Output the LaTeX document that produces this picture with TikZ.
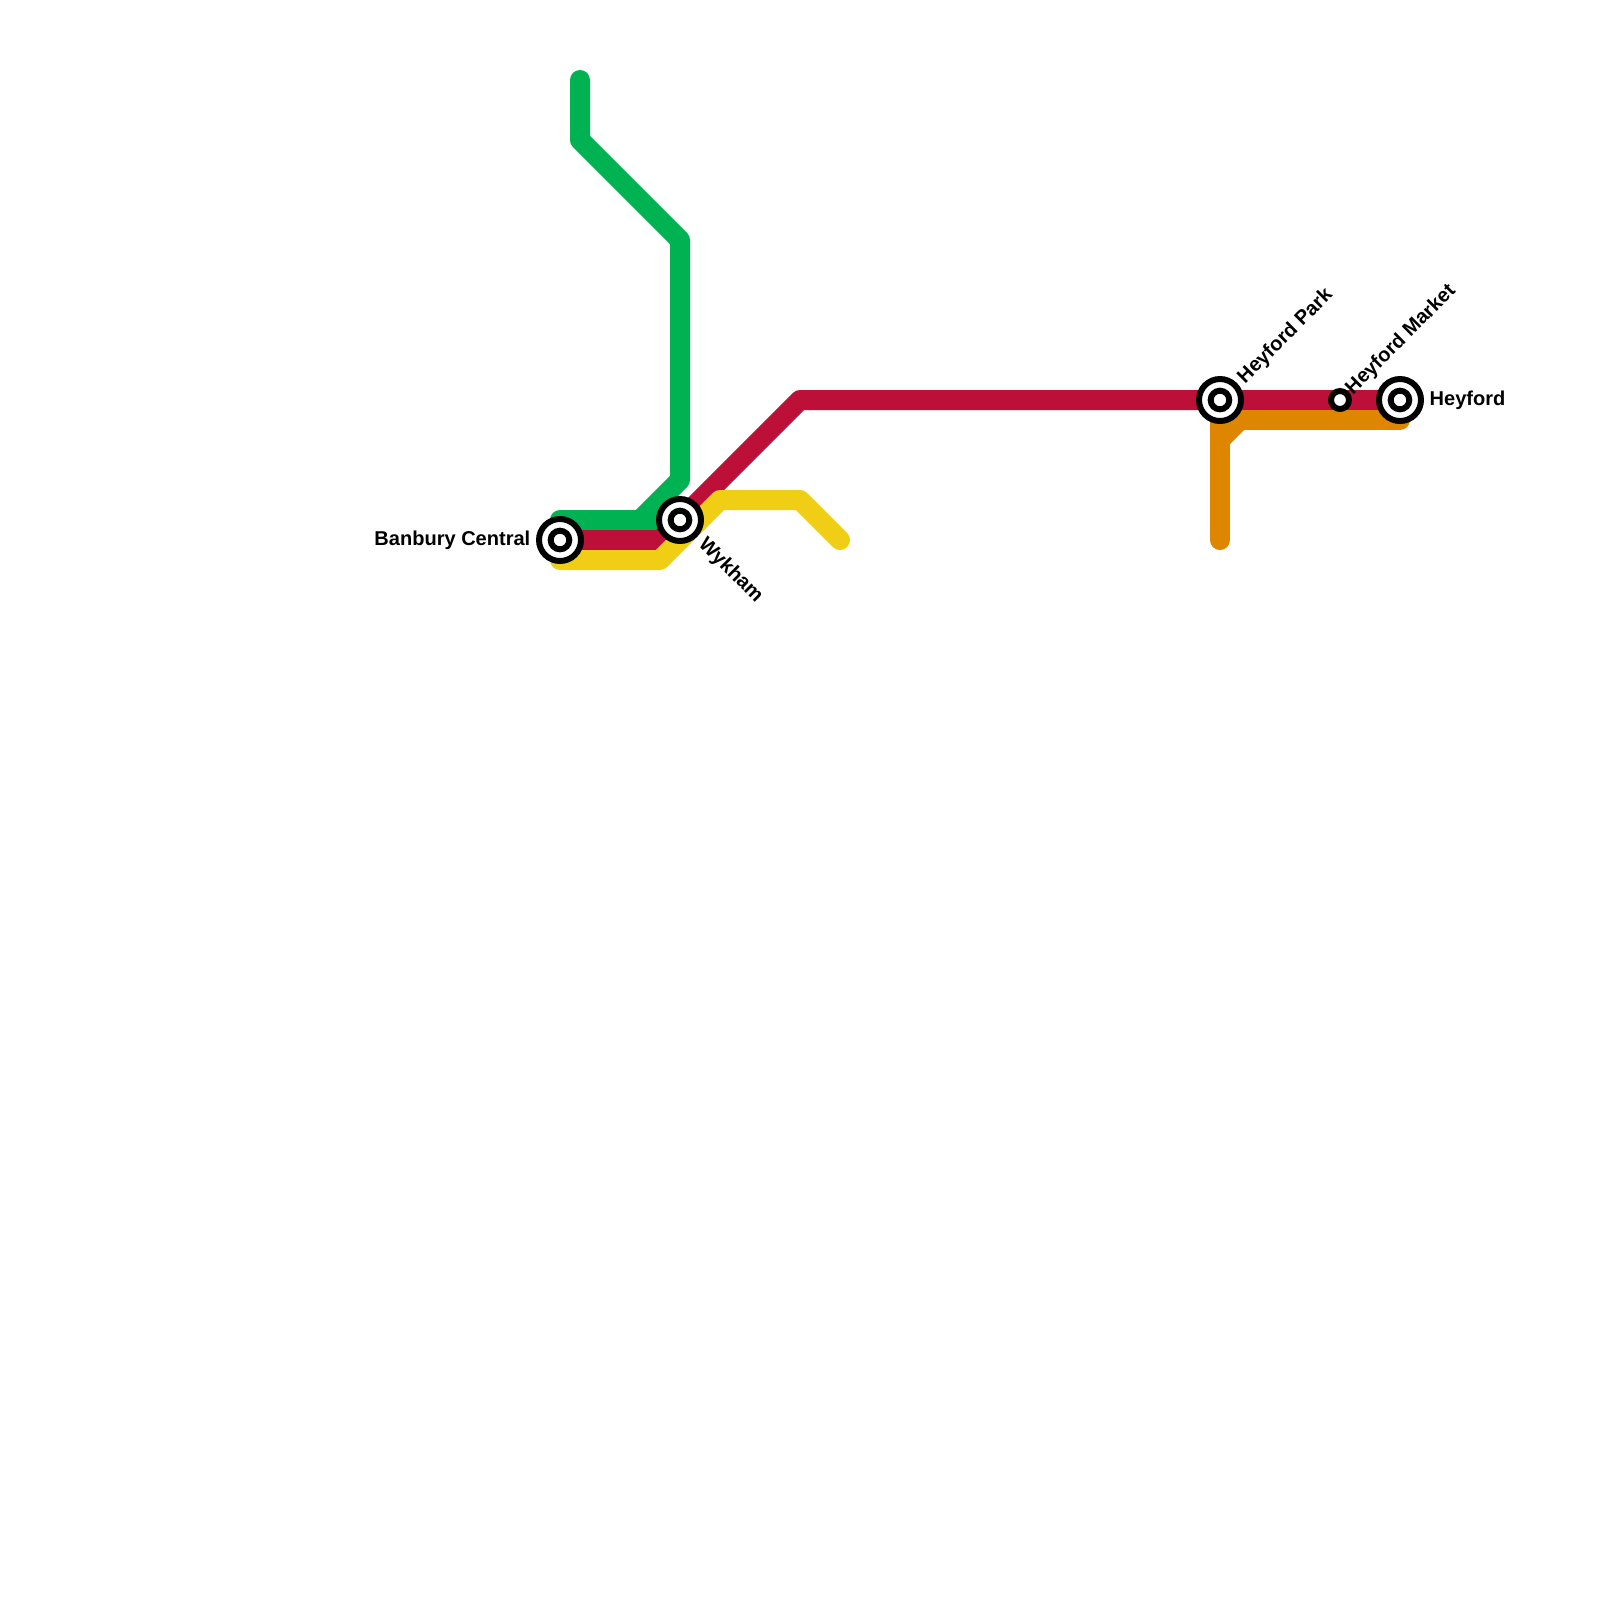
\documentclass[tikz,border=0pt]{standalone}
\usepackage{fontspec}
\setmainfont{Liberation Sans}
\usetikzlibrary{backgrounds}
\definecolor{linegreen}{HTML}{00B251}
\definecolor{linered}{HTML}{BD1038}
\definecolor{lineyellow}{HTML}{F0CE15}
\definecolor{lineorange}{HTML}{DF8600}
\tikzset{
  route/.style={line width=5.69pt,line cap=round,line join=round},
  interchange/.style={circle,draw=black,fill=white,line width=1.7pt,inner sep=0pt,outer sep=0pt,minimum size=11.95pt},
  interchangedot/.style={circle,draw=black,fill=white,line width=1.7pt,inner sep=0pt,outer sep=0pt,minimum size=5.3pt},
  halt/.style={circle,draw=black,fill=white,line width=1.7pt,inner sep=0pt,outer sep=0pt,minimum size=5.12pt},
  stationname/.style={font=\bfseries\fontsize{5.7}{7}\selectfont,inner sep=0pt,text=black},
}
\begin{document}
\begin{tikzpicture}[scale=0.2, yscale=-1]
\useasboundingbox (0,0) rectangle (80,80);
% stations
\node[interchange] (banbury) at (28,27) {};
\node[interchangedot] (banburydot) at (banbury) {};
\node[interchange] (wykham) at (34,26) {};
\node[interchangedot] (wykhamdot) at (wykham) {};
\node[interchange] (heyfordpark) at (61,20) {};
\node[interchangedot] (heyfordparkdot) at (heyfordpark) {};
\node[halt] (heyfordmarket) at (67,20) {};
\node[interchange] (heyford) at (70,20) {};
\node[interchangedot] (heyforddot) at (heyford) {};
% labels
\node[stationname,anchor=east] (banburyname) at (26.55,27.0) {Banbury Central};
\node[stationname,anchor=west,rotate=-45] (wykhamname) at (35.05,27.05) {Wykham};
\node[stationname,anchor=west,rotate=45] (heyfordparkname) at (62.05,19.05) {Heyford Park};
\node[stationname,anchor=west,rotate=45] (heyfordmarketname) at (67.45,19.6) {Heyford Market};
\node[stationname,anchor=west] (heyfordname) at (71.45,20.0) {Heyford};
% lines
\begin{scope}[on background layer]
\draw[route,linegreen] (29,4) -- (29,7) -- (34,12) -- (34,24) -- (32,26) -- (28,26);
\draw[route,linegreen] (32,26) -- (wykham.center);
\draw[route,linered] (banbury.center) -- (33,27) -- (40,20) -- (heyford.center);
\draw[route,lineyellow] (28,28) -- (33,28) -- (36,25) -- (40,25) -- (42,27);
\draw[route,lineorange] (61,27) -- (61,21) -- (70,21);
\draw[route,lineorange,line cap=butt] (61,22) -- (62,21);
\end{scope}
\end{tikzpicture}
\end{document}
